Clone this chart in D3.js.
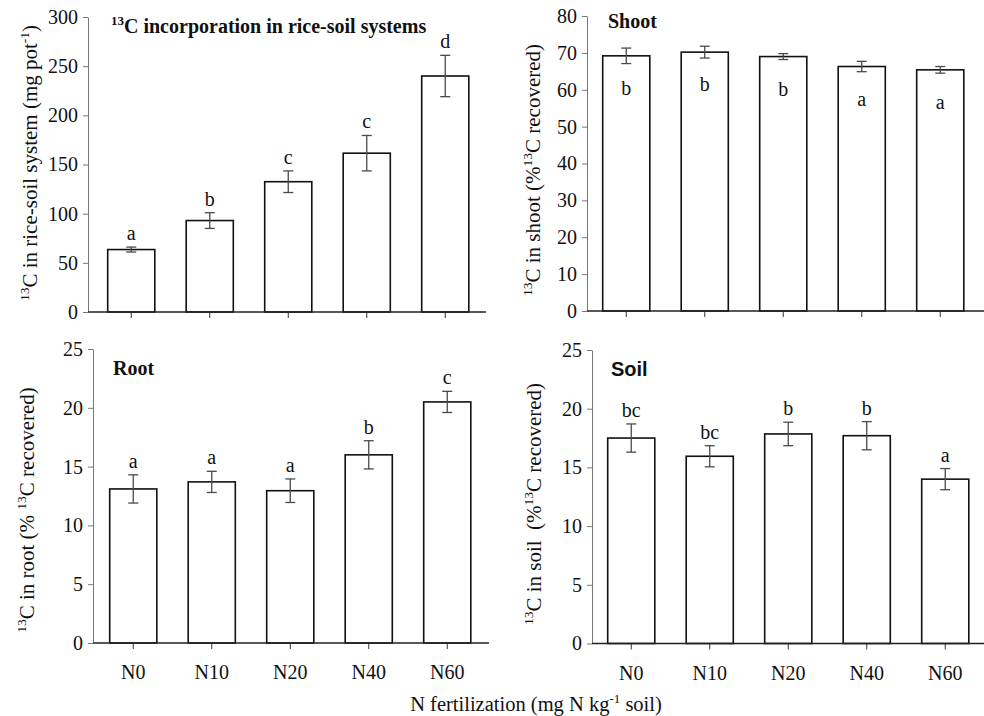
<!DOCTYPE html>
<html lang="en">
<head>
  <meta charset="UTF-8" />
  <title>13C incorporation in rice-soil systems</title>
  <style>
    body { margin: 0; background: #fff; }
    svg { display: block; }
    text { font-family: "Liberation Serif", "Times New Roman", serif; fill: #111; white-space: pre; }
    text.sans { font-family: "Liberation Sans", Arial, sans-serif; }
  </style>
</head>
<body>
  <svg id="chart"></svg>

  <script src="https://d3js.org/d3.v7.min.js"></script>
  <script>
    const groups = ["N0", "N10", "N20", "N40", "N60"];

    // 13C in rice-soil system (mg pot-1)
    const systemMean = [63.5, 93, 132.5, 161.5, 240];
    const systemErr = [2.5, 8, 11, 18, 21];
    const systemLetters = ["a", "b", "c", "c", "d"];
    const systemTicks = [0, 50, 100, 150, 200, 250, 300];

    // shoot (% 13C recovered)
    const shootMean = [69.2, 70.2, 69.0, 66.3, 65.4];
    const shootErr = [2.1, 1.6, 0.8, 1.4, 0.9];
    const shootLetters = ["b", "b", "b", "a", "a"];
    const shootTicks = [0, 10, 20, 30, 40, 50, 60, 70, 80];

    // root (% 13C recovered)
    const rootMean = [13.1, 13.7, 12.95, 16.0, 20.5];
    const rootErr = [1.2, 0.9, 1.0, 1.2, 0.9];
    const rootLetters = ["a", "a", "a", "b", "c"];

    // soil (% 13C recovered)
    const soilMean = [17.5, 15.95, 17.85, 17.7, 14.0];
    const soilErr = [1.2, 0.9, 1.0, 1.2, 0.9];
    const soilLetters = ["bc", "bc", "b", "b", "a"];

    const pctTicks = [0, 5, 10, 15, 20, 25];

    const width = 984, height = 716;
    const svg = d3.select("#chart").attr("width", width).attr("height", height);

    const panels = [
      {
        mean: systemMean, err: systemErr, letters: systemLetters, ticks: systemTicks,
        axisX: 88, bandStart: 92, lineEnd: 486, top: 17, bottom: 312,
        lettersInside: false, showNames: false,
        title: { parts: [{ t: "13", sup: true }, { t: "C incorporation in rice-soil systems" }], x: 111, y: 33 },
        ylabel: { parts: [{ t: "13", sup: true }, { t: "C in rice-soil system (mg pot" }, { t: "-1", sup: true }, { t: ")" }], x: 37, y: 163 }
      },
      {
        mean: shootMean, err: shootErr, letters: shootLetters, ticks: shootTicks,
        axisX: 587, bandStart: 587, lineEnd: 984, top: 16, bottom: 311,
        lettersInside: true, showNames: false,
        title: { parts: [{ t: "Shoot" }], x: 608, y: 28 },
        ylabel: { parts: [{ t: "13", sup: true }, { t: "C in shoot (%" }, { t: "13", sup: true }, { t: "C recovered)" }], x: 540, y: 170 }
      },
      {
        mean: rootMean, err: rootErr, letters: rootLetters, ticks: pctTicks,
        axisX: 93, bandStart: 94, lineEnd: 489, top: 349, bottom: 643,
        lettersInside: false, showNames: true,
        title: { parts: [{ t: "Root" }], x: 113, y: 375 },
        ylabel: { parts: [{ t: "13", sup: true }, { t: "C in root (% " }, { t: "13", sup: true }, { t: "C recovered)" }], x: 34, y: 510 }
      },
      {
        mean: soilMean, err: soilErr, letters: soilLetters, ticks: pctTicks,
        axisX: 592, bandStart: 592, lineEnd: 984, top: 350, bottom: 643.5,
        lettersInside: false, showNames: true,
        title: { parts: [{ t: "Soil" }], x: 611, y: 376, sans: true },
        ylabel: { parts: [{ t: "13", sup: true }, { t: "C in soil  (%" }, { t: "13", sup: true }, { t: "C recovered)" }], x: 541, y: 504 }
      }
    ];

    function richText(sel, parts, size, supSize) {
      parts.forEach((p, i) => {
        const prevSup = i > 0 && parts[i - 1].sup;
        let dy = 0;
        if (p.sup && !prevSup) dy = -size * 0.4;
        if (!p.sup && prevSup) dy = size * 0.4;
        sel.append("tspan")
          .attr("font-size", p.sup ? supSize : size)
          .attr("dy", dy)
          .text(p.t);
      });
    }

    panels.forEach(p => {
      const g = svg.append("g");
      const step = 78.5;

      const x = d3.scaleBand()
        .domain(groups)
        .range([p.bandStart, p.bandStart + step * groups.length])
        .paddingInner(0.4)
        .paddingOuter(0.2);

      const y = d3.scaleLinear()
        .domain([0, p.ticks[p.ticks.length - 1]])
        .range([p.bottom, p.top]);

      const rows = groups.map((n, i) => ({ name: n, mean: p.mean[i], err: p.err[i], letter: p.letters[i] }));

      // y axis
      const yAxis = g.append("g")
        .attr("transform", `translate(${p.axisX},0)`)
        .call(d3.axisLeft(y).tickValues(p.ticks).tickSize(5).tickPadding(5).tickSizeOuter(0));
      yAxis.select(".domain").attr("stroke", "#777").attr("stroke-width", 1);
      yAxis.selectAll(".tick line").attr("stroke", "#777");
      yAxis.selectAll(".tick text")
        .attr("font-size", 20)
        .attr("fill", "#111");

      // bars
      g.selectAll("rect.bar")
        .data(rows)
        .join("rect")
        .attr("class", "bar")
        .attr("x", d => x(d.name))
        .attr("y", d => y(d.mean))
        .attr("width", x.bandwidth())
        .attr("height", d => y(0) - y(d.mean))
        .attr("fill", "#fff")
        .attr("stroke", "#111")
        .attr("stroke-width", 1.6);

      // x axis
      const xAxis = g.append("g")
        .attr("transform", `translate(0,${p.bottom})`)
        .call(d3.axisBottom(x).tickSize(6).tickPadding(16).tickFormat(p.showNames ? (d => d) : ""));
      xAxis.select(".domain").remove();
      xAxis.selectAll(".tick line").attr("stroke", "#333");
      xAxis.selectAll(".tick text")
        .attr("font-size", 20)
        .attr("fill", "#111");
      g.append("line")
        .attr("x1", p.axisX).attr("x2", p.lineEnd)
        .attr("y1", p.bottom).attr("y2", p.bottom)
        .attr("stroke", "#222").attr("stroke-width", 1.6);

      // error bars
      const cx = d => x(d.name) + x.bandwidth() / 2;
      const eb = g.selectAll("g.err").data(rows).join("g").attr("class", "err")
        .attr("stroke", "#4a4a4a").attr("stroke-width", 1.3);
      eb.append("line")
        .attr("x1", cx).attr("x2", cx)
        .attr("y1", d => y(d.mean + d.err)).attr("y2", d => y(d.mean - d.err));
      eb.append("line")
        .attr("x1", d => cx(d) - 5).attr("x2", d => cx(d) + 5)
        .attr("y1", d => y(d.mean + d.err)).attr("y2", d => y(d.mean + d.err));
      eb.append("line")
        .attr("x1", d => cx(d) - 5).attr("x2", d => cx(d) + 5)
        .attr("y1", d => y(d.mean - d.err)).attr("y2", d => y(d.mean - d.err));

      // significance letters
      g.selectAll("text.letter")
        .data(rows)
        .join("text")
        .attr("class", "letter")
        .attr("x", cx)
        .attr("y", d => p.lettersInside ? y(d.mean) + 39 : y(d.mean + d.err) - 7)
        .attr("text-anchor", "middle")
        .attr("font-size", 20)
        .text(d => d.letter);

      // panel title
      const t = g.append("text")
        .attr("x", p.title.x).attr("y", p.title.y)
        .attr("font-weight", "bold")
        .attr("class", p.title.sans ? "sans" : null);
      richText(t, p.title.parts, 20, 13);

      // y label
      const yl = g.append("text")
        .attr("transform", `translate(${p.ylabel.x},${p.ylabel.y}) rotate(-90)`)
        .attr("text-anchor", "middle");
      richText(yl, p.ylabel.parts, 21, 13.5);
    });

    const xl = svg.append("text")
      .attr("x", 536).attr("y", 711)
      .attr("text-anchor", "middle");
    richText(xl, [{ t: "N fertilization (mg N kg" }, { t: "-1", sup: true }, { t: " soil)" }], 20.5, 13);
  </script>
</body>
</html>
